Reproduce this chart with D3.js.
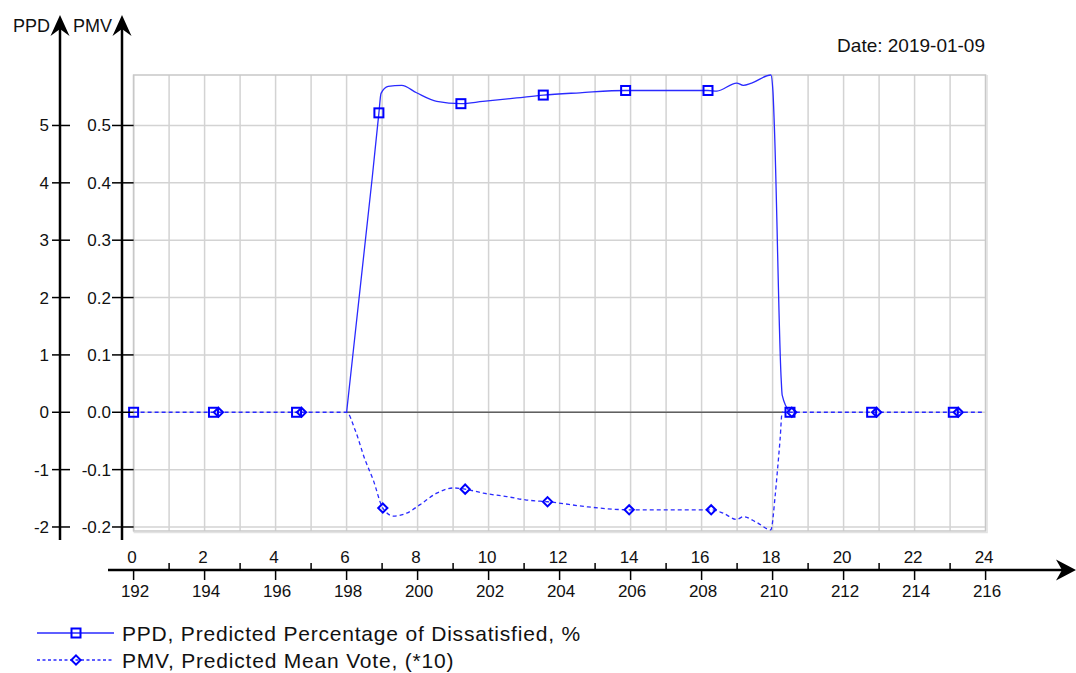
<!DOCTYPE html>
<html>
<head>
<meta charset="utf-8">
<script src="https://cdn.jsdelivr.net/npm/d3@7/dist/d3.min.js"></script>
<style>
  html, body { margin: 0; padding: 0; background: #fff; }
  svg { display: block; font-family: "Liberation Sans", Arial, sans-serif; }
</style>
</head>
<body>
<svg id="chart" width="1076" height="673"></svg>
<script>
// Hour-of-day ticks on the upper time row and hour-of-year labels on the lower row
const hourTicks = [0, 2, 4, 6, 8, 10, 12, 14, 16, 18, 20, 22, 24];
const yearHourLabels = [192, 194, 196, 198, 200, 202, 204, 206, 208, 210, 212, 214, 216];

// Left axes: PPD in %, PMV shown on the same scale (PMV*10)
const ppdTicks = [5, 4, 3, 2, 1, 0, -1, -2];
const pmvTickLabels = ["0.5", "0.4", "0.3", "0.2", "0.1", "0.0", "-0.1", "-0.2"];

// PPD, Predicted Percentage of Dissatisfied, % (occupied period)
const ppdHours  = [6.0, 6.72, 6.91, 6.97, 7.17, 7.55, 7.97, 8.54, 9.22, 9.84, 10.79, 11.54, 12.57, 13.86, 15.0, 16.18, 16.43, 16.99, 17.17, 17.41, 17.95, 18.01, 18.05, 18.24, 18.27, 18.49];
const ppdValues = [0, 4.08, 5.22, 5.56, 5.68, 5.70, 5.57, 5.42, 5.38, 5.42, 5.48, 5.53, 5.57, 5.61, 5.61, 5.61, 5.60, 5.74, 5.70, 5.74, 5.88, 5.59, 4.98, 0.60, 0.30, 0];

// PMV, Predicted Mean Vote (*10)
const pmvHours  = [0, 6.0, 6.24, 6.52, 6.75, 7.02, 7.32, 7.69, 8.07, 8.54, 9.01, 9.34, 9.85, 10.51, 11.07, 11.45, 11.66, 12.8, 13.96, 15.1, 16.27, 16.61, 16.99, 17.17, 17.55, 17.95, 18.07, 18.13, 18.21, 18.27, 23.9];
const pmvValues = [0, 0, -0.31, -0.83, -1.18, -1.67, -1.81, -1.76, -1.61, -1.41, -1.32, -1.34, -1.41, -1.47, -1.53, -1.55, -1.56, -1.65, -1.70, -1.70, -1.70, -1.76, -1.87, -1.82, -1.92, -2.05, -1.47, -1.06, -0.48, 0, 0];

// Marker positions along each series
const ppdMarkerHours  = [0, 2.25, 4.59, 6.91, 9.22, 11.54, 13.86, 16.18, 18.49, 20.79, 23.09];
const ppdMarkerValues = [0, 0, 0, 5.22, 5.38, 5.53, 5.61, 5.61, 0, 0, 0];
const pmvMarkerHours  = [2.39, 4.73, 7.02, 9.34, 11.66, 13.96, 16.27, 18.54, 20.93, 23.23];
const pmvMarkerValues = [0, 0, -1.67, -1.34, -1.56, -1.70, -1.70, 0, 0, 0];

// Neutral reference line across the occupied period
const zeroLineHours = [6.0, 18.29];

const dateLabel = "Date: 2019-01-09";
const legendLabels = ["PPD, Predicted Percentage of Dissatisfied, %", "PMV, Predicted Mean Vote, (*10)"];
const axisTitles = ["PPD", "PMV"];

const svg = d3.select("#chart");
const blue = "#0000ff";
const lineBlue = "#2a2aff";

const x = d3.scaleLinear().domain([0, 24]).range([133.6, 985.6]);
const y = d3.scaleLinear().domain([-2.07, 5.88]).range([531, 75]);

// Plot grid
const grid = svg.append("g").attr("stroke", "#d3d3d3").attr("stroke-width", 1.5);
grid.selectAll(".v").data(x.ticks(24)).join("line")
  .attr("x1", d => x(d)).attr("x2", d => x(d))
  .attr("y1", y.range()[1]).attr("y2", y.range()[0]);
grid.selectAll(".h").data(ppdTicks).join("line")
  .attr("x1", x.range()[0]).attr("x2", x.range()[1])
  .attr("y1", d => y(d)).attr("y2", d => y(d));
svg.append("rect")
  .attr("x", x.range()[0]).attr("y", y.range()[1])
  .attr("width", x.range()[1] - x.range()[0]).attr("height", y.range()[0] - y.range()[1])
  .attr("fill", "none").attr("stroke", "#c8c8c8").attr("stroke-width", 1.5);
svg.append("path")
  .attr("d", `M${x.range()[1] + 1.5},${y.range()[1]}V${y.range()[0] + 1.5}H${x.range()[0]}`)
  .attr("fill", "none").attr("stroke", "#e2e2e2").attr("stroke-width", 1.5);

// Zero reference line
svg.append("line")
  .attr("x1", x(zeroLineHours[0])).attr("x2", x(zeroLineHours[1]))
  .attr("y1", y(0)).attr("y2", y(0))
  .attr("stroke", "#606060").attr("stroke-width", 1.6);

// Series lines
const ppdData = ppdHours.map((h, i) => [h, ppdValues[i]]);
const pmvData = pmvHours.map((h, i) => [h, pmvValues[i]]);
const line = d3.line().x(d => x(d[0])).y(d => y(d[1])).curve(d3.curveMonotoneX);

svg.append("path").datum(pmvData).attr("d", line)
  .attr("fill", "none").attr("stroke", lineBlue).attr("stroke-width", 1.3)
  .attr("stroke-dasharray", "4,3");
svg.append("path").datum(ppdData).attr("d", line)
  .attr("fill", "none").attr("stroke", lineBlue).attr("stroke-width", 1.3);

// Markers
const sq = 9, dm = 4.6;
function square(g, cx, cy) {
  g.append("rect").attr("x", cx - sq / 2).attr("y", cy - sq / 2)
    .attr("width", sq).attr("height", sq)
    .attr("fill", "none").attr("stroke", blue).attr("stroke-width", 2);
}
function diamond(g, cx, cy) {
  g.append("path").attr("d", `M${cx},${cy - dm}L${cx + dm},${cy}L${cx},${cy + dm}L${cx - dm},${cy}Z`)
    .attr("fill", "none").attr("stroke", blue).attr("stroke-width", 2);
}
const markers = svg.append("g");
ppdMarkerHours.forEach((h, i) => square(markers, x(h), y(ppdMarkerValues[i])));
pmvMarkerHours.forEach((h, i) => diamond(markers, x(h), y(pmvMarkerValues[i])));

// Vertical axes with arrows
const axisColor = "#000";
const axisTop = 15, axisBottom = 540;
const axisX = [60, 122];
axisX.forEach((ax, k) => {
  svg.append("line").attr("x1", ax).attr("x2", ax).attr("y1", axisTop + 8).attr("y2", axisBottom)
    .attr("stroke", axisColor).attr("stroke-width", 2.5);
  svg.append("path")
    .attr("d", `M${ax},${axisTop}L${ax + 9.5},${axisTop + 21}L${ax},${axisTop + 14}L${ax - 9.5},${axisTop + 21}Z`)
    .attr("fill", axisColor);
  svg.append("text").attr("x", ax - 10).attr("y", axisTop + 17)
    .attr("text-anchor", "end").attr("font-size", 18).attr("fill", "#111")
    .text(axisTitles[k]);
});

// PPD ticks
const ppdAxis = svg.append("g");
ppdTicks.forEach(v => {
  ppdAxis.append("line").attr("x1", 52).attr("x2", 70).attr("y1", y(v)).attr("y2", y(v))
    .attr("stroke", axisColor).attr("stroke-width", 1.5);
  ppdAxis.append("text").attr("x", 49).attr("y", y(v) + 6)
    .attr("text-anchor", "end").attr("font-size", 17).attr("fill", "#111").text(v);
});
// PMV ticks
const pmvAxis = svg.append("g");
ppdTicks.forEach((v, i) => {
  pmvAxis.append("line").attr("x1", 112).attr("x2", x.range()[0]).attr("y1", y(v)).attr("y2", y(v))
    .attr("stroke", axisColor).attr("stroke-width", 1.5);
  pmvAxis.append("text").attr("x", 111).attr("y", y(v) + 6)
    .attr("text-anchor", "end").attr("font-size", 17).attr("fill", "#111").text(pmvTickLabels[i]);
});

// Horizontal time axis with arrow
const axY = 570;
svg.append("line").attr("x1", 108).attr("x2", 1066).attr("y1", axY).attr("y2", axY)
  .attr("stroke", axisColor).attr("stroke-width", 2.5);
svg.append("path")
  .attr("d", `M1076,${axY}L1056,${axY - 10.5}L1062,${axY}L1056,${axY + 10.5}Z`)
  .attr("fill", axisColor);

const timeAxis = svg.append("g");
// odd-hour ticks above the line
x.ticks(24).filter(h => h % 2 === 1).forEach(h => {
  timeAxis.append("line").attr("x1", x(h)).attr("x2", x(h)).attr("y1", axY - 7).attr("y2", axY)
    .attr("stroke", axisColor).attr("stroke-width", 1.5);
});
hourTicks.forEach((h, i) => {
  timeAxis.append("line").attr("x1", x(h)).attr("x2", x(h)).attr("y1", axY).attr("y2", axY + 10)
    .attr("stroke", axisColor).attr("stroke-width", 1.5);
  timeAxis.append("text").attr("x", x(h) - 1.5).attr("y", axY - 7)
    .attr("text-anchor", "middle").attr("font-size", 17).attr("fill", "#111").text(h);
  timeAxis.append("text").attr("x", x(h) + 1.5).attr("y", axY + 27)
    .attr("text-anchor", "middle").attr("font-size", 17).attr("fill", "#111").text(yearHourLabels[i]);
});

// Date
svg.append("text").attr("x", 985).attr("y", 52).attr("text-anchor", "end")
  .attr("font-size", 19).attr("fill", "#111").text(dateLabel);

// Legend
const legend = svg.append("g");
const legendRows = [633, 660];
legendRows.forEach((ly, i) => {
  legend.append("line").attr("x1", 37).attr("x2", 114).attr("y1", ly).attr("y2", ly)
    .attr("stroke", lineBlue).attr("stroke-width", 1.3)
    .attr("stroke-dasharray", i === 1 ? "3,2.5" : null);
  if (i === 0) square(legend, 76, ly); else diamond(legend, 76, ly);
  legend.append("text").attr("x", 122).attr("y", ly + 7.5)
    .attr("font-size", 21).attr("letter-spacing", 0.8).attr("fill", "#111")
    .text(legendLabels[i]);
});
</script>
</body>
</html>
